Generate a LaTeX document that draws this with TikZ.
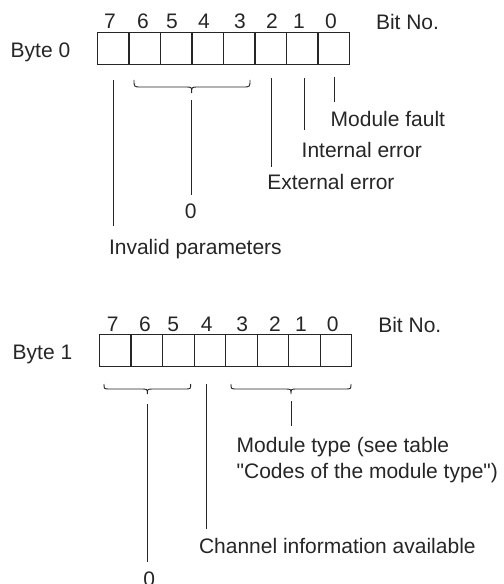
\documentclass[tikz,border=0pt]{standalone}
\usepackage{fontspec}
\setmainfont{Liberation Sans}[Ligatures=TeXOff]
\begin{document}
\begin{tikzpicture}[x=1bp,y=-1bp,
  every node/.style={font=\fontsize{21bp}{25bp}\selectfont, text=black!85, inner sep=0pt, outer sep=0pt},
  cell/.style={draw=black!85, line width=1.1bp, minimum width=31.5bp, minimum height=31.8bp},
  lbl/.style={anchor=base west},
  dig/.style={anchor=base},
  lead/.style={draw=black!85, line width=0.9bp},
  bracestyle/.style={draw=black!85, line width=0.9bp}
]
\useasboundingbox (0,0) rectangle (504,584);

% ---------- Byte 0 ----------
\node[lbl] (byte0) at (10.7,57.3) {Byte 0};
\foreach \i/\x in {7/113.1,6/144.8,5/176.3,4/207.7,3/239.2,2/270.7,1/302.2,0/333.8}{
  \node[cell] (a\i) at (\x,48.2) {};
}
\foreach \i/\x in {7/110,6/143,5/172,4/204,3/240,2/272,1/299,0/331}{
  \node[dig] (ad\i) at (\x,29) {\i};
}
\node[lbl] (abit) at (376,30) {Bit No.};

\coordinate (a7t) at (113.7,80);   \coordinate (a7b) at (113.7,226);
\coordinate (a2t) at (271,78);     \coordinate (a2b) at (271,167);
\coordinate (a1t) at (304,78);     \coordinate (a1b) at (304,130);
\coordinate (a0t) at (334.7,77);   \coordinate (a0b) at (334.7,102);
\coordinate (abt) at (191.7,100);  \coordinate (abb) at (191.7,195);

\draw[lead] (a7t) -- (a7b);
\draw[lead] (a2t) -- (a2b);
\draw[lead] (a1t) -- (a1b);
\draw[lead] (a0t) -- (a0b);
\draw[lead] (abt) -- (abb);

% brace bits 6..3
\draw[bracestyle] (134,80) .. controls (134,87) .. (141,87) -- (185.7,87)
  .. controls (191.7,87) .. (191.7,93) .. controls (191.7,87) .. (197.7,87)
  -- (243,87) .. controls (250,87) .. (250,80);

\node[lbl] (mfault) at (330.7,126.7) {Module fault};
\node[lbl] (interr) at (301.7,157.3) {Internal error};
\node[lbl] (exterr) at (267.3,189.3) {External error};
\node[dig] (azero) at (190.7,218) {0};
\node[lbl] (invpar) at (109,254) {Invalid parameters};

% ---------- Byte 1 ----------
\node[lbl] (byte1) at (12.7,359) {Byte 1};
\foreach \i/\x in {7/115.15,6/146.85,5/178.35,4/209.85,3/241.35,2/272.85,1/304.5,0/336}{
  \node[cell] (b\i) at (\x,350.3) {};
}
\foreach \i/\x in {7/112.7,6/145,5/173.3,4/206.7,3/242.3,2/275,1/301,0/332.7}{
  \node[dig] (bd\i) at (\x,331) {\i};
}
\node[lbl] (bbit) at (378.3,332.7) {Bit No.};

% brace bits 7..5
\draw[bracestyle] (104,384) .. controls (104,389) .. (110,389) -- (141.3,389)
  .. controls (147.3,389) .. (147.3,394) .. controls (147.3,389) .. (153.3,389)
  -- (184.7,389) .. controls (190.7,389) .. (190.7,384);
% brace bits 3..0
\draw[bracestyle] (231,384) .. controls (231,389) .. (237,389) -- (285,389)
  .. controls (291,389) .. (291,394) .. controls (291,389) .. (297,389)
  -- (345,389) .. controls (351,389) .. (351,384);

\coordinate (bb1t) at (147.3,404);  \coordinate (bb1b) at (147.3,561.7);
\coordinate (b4t) at (206.3,384.3); \coordinate (b4b) at (206.3,529);
\coordinate (bb2t) at (291,401);    \coordinate (bb2b) at (291,426);
\draw[lead] (bb1t) -- (bb1b);
\draw[lead] (b4t) -- (b4b);
\draw[lead] (bb2t) -- (bb2b);

\node[lbl] (mtype1) at (236.7,452.3) {Module type (see table};
\node[lbl] (mtype2) at (236.7,478.3) {"Codes of the module type")};
\node[lbl] (chinfo) at (199,553.3) {Channel information available};
\node[dig] (bzero) at (149.3,586.5) {0};
\end{tikzpicture}
\end{document}
